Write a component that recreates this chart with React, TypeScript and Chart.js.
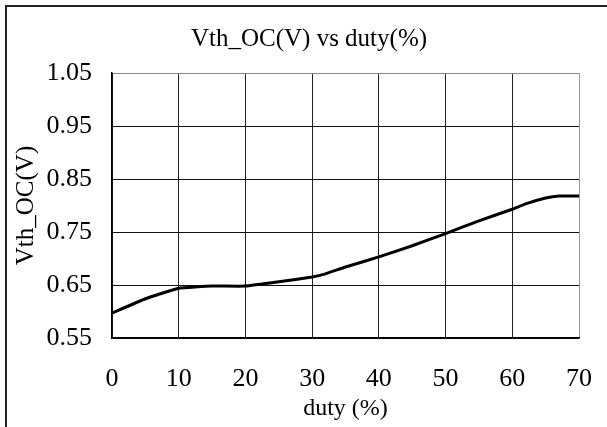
import React, { useEffect, useRef } from "react";
import { Chart, registerables } from "chart.js";

Chart.register(...registerables);

const dutyValues = [0, 5, 10, 15, 20, 25, 30, 32, 35, 40, 45, 50, 55, 60, 62, 65, 67, 70];
const vthValues = [0.597, 0.624, 0.644, 0.648, 0.648, 0.656, 0.665, 0.671, 0.684, 0.703, 0.724, 0.747, 0.771, 0.793, 0.803, 0.814, 0.818, 0.818];
const xTicks = [0, 10, 20, 30, 40, 50, 60, 70];
const yTicks = [0.55, 0.65, 0.75, 0.85, 0.95, 1.05];
const chartTitle = "Vth_OC(V) vs duty(%)";
const xTitle = "duty (%)";
const yTitle = "Vth_OC(V)";

const FONT = "'Liberation Serif', 'Times New Roman', serif";

export default function App() {
  const ref = useRef<HTMLCanvasElement | null>(null);

  useEffect(() => {
    if (!ref.current) return;
    const chart = new Chart(ref.current, {
      type: "line",
      data: {
        datasets: [
          {
            data: dutyValues.map((d, i) => ({ x: d, y: vthValues[i] })),
            borderColor: "#000",
            borderWidth: 3,
            pointRadius: 0,
            tension: 0.1,
            fill: false,
          },
        ],
      },
      options: {
        animation: false,
        responsive: false,
        maintainAspectRatio: false,
        layout: { padding: { left: 11, right: 0, top: 0, bottom: 0 } },
        plugins: {
          legend: { display: false },
          tooltip: { enabled: false },
          title: {
            display: true,
            text: chartTitle,
            color: "#000",
            font: { family: FONT, size: 25, weight: "normal" },
            padding: { top: 24, bottom: 19 },
          },
        },
        scales: {
          x: {
            type: "linear",
            min: 0,
            max: 70,
            afterBuildTicks: (s: any) => {
              s.ticks = xTicks.map((v) => ({ value: v }));
            },
            afterFit: (s: any) => {
              s.height = 89;
              s.paddingRight = 28;
            },
            ticks: {
              color: "#000",
              font: { family: FONT, size: 26 },
              padding: 15,
              maxRotation: 0,
              callback: (v: any) => String(v),
            },
            grid: {
              drawTicks: true,
              tickLength: 11,
              tickColor: "rgba(0,0,0,0)",
              color: (c: any) => (c.tick && c.tick.value === 70 ? "#999" : "#222"),
              lineWidth: 1,
            },
            border: { display: true, color: "#000", width: 1.5 },
            title: {
              display: true,
              text: xTitle,
              color: "#000",
              font: { family: FONT, size: 24 },
              padding: { top: 0, bottom: 4 },
            },
          },
          y: {
            type: "linear",
            min: 0.55,
            max: 1.05,
            afterBuildTicks: (s: any) => {
              s.ticks = yTicks.map((v) => ({ value: v }));
            },
            afterFit: (s: any) => {
              s.width = 101;
            },
            ticks: {
              color: "#000",
              font: { family: FONT, size: 26 },
              padding: 0,
              callback: (v: any) => Number(v).toFixed(2),
            },
            grid: {
              drawTicks: true,
              tickLength: 20,
              tickColor: "rgba(0,0,0,0)",
              color: (c: any) => (c.tick && Math.abs(c.tick.value - 1.05) < 1e-6 ? "#888" : "#111"),
              lineWidth: 1,
            },
            border: { display: true, color: "#000", width: 1.5 },
            title: {
              display: true,
              text: yTitle,
              color: "#000",
              font: { family: FONT, size: 25 },
              padding: { top: 0, bottom: 0 },
            },
          },
        },
      },
    });
    return () => chart.destroy();
  }, []);

  return (
    <div style={{ position: "absolute", left: 0, top: 0, width: 607, height: 427, background: "#fff", overflow: "hidden" }}>
      <canvas ref={ref} width={607} height={427} style={{ position: "absolute", left: 0, top: 0, width: 607, height: 427 }} />
      <div
        style={{
          position: "absolute",
          left: 5,
          top: 5,
          width: 700,
          height: 500,
          borderLeft: "2px solid #222",
          borderTop: "2px solid #222",
          pointerEvents: "none",
        }}
      />
    </div>
  );
}
